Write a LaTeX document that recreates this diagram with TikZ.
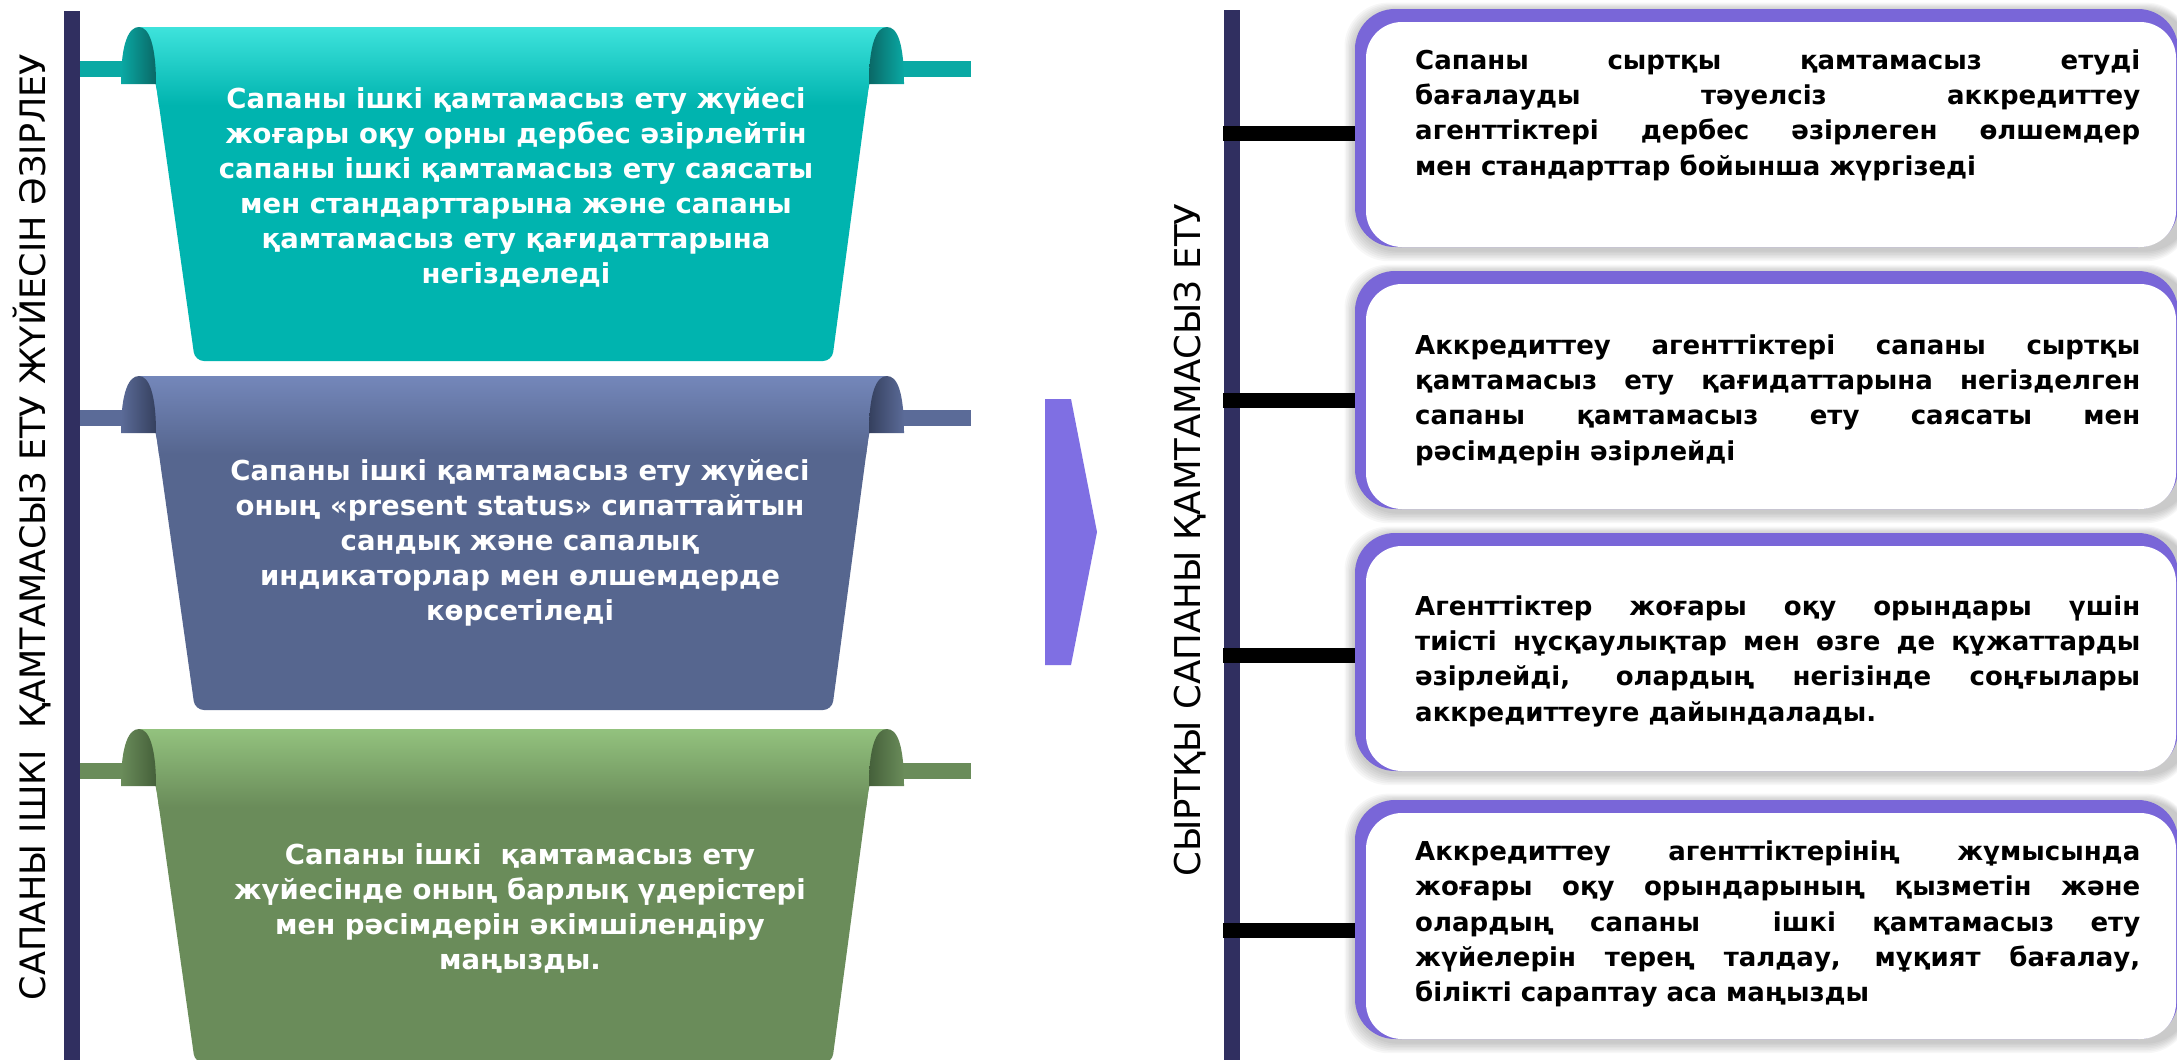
\documentclass[tikz,border=0pt]{standalone}
\usepackage{fontspec}
\setmainfont{DejaVu Sans}
\definecolor{navy}{HTML}{302F60}
\definecolor{tealL}{HTML}{3EE3DC}
\definecolor{tealM}{HTML}{0BA6A1}
\definecolor{tealB}{HTML}{00B4AF}
\definecolor{tealD}{HTML}{0A6866}
\definecolor{tealR}{HTML}{0AA9A4}
\definecolor{blueL}{HTML}{7487BA}
\definecolor{blueM}{HTML}{505F88}
\definecolor{blueB}{HTML}{56668F}
\definecolor{blueD}{HTML}{35405E}
\definecolor{blueR}{HTML}{5B6B98}
\definecolor{grnL}{HTML}{93C27E}
\definecolor{grnM}{HTML}{66874F}
\definecolor{grnB}{HTML}{6A8C5A}
\definecolor{grnD}{HTML}{45603A}
\definecolor{grnR}{HTML}{6A8C5A}
\definecolor{purp}{HTML}{7966D8}
\definecolor{chev}{HTML}{7F6FE3}
\tikzset{
 bantext/.style={text=white, align=center, font=\bfseries\fontsize{27.5}{35}\selectfont, inner sep=0pt},
 boxtext/.style={text=black, align=left, font=\bfseries\fontsize{26}{35.3}\selectfont, inner sep=0pt, anchor=west},
 vlabel/.style={rotate=90, text=black, inner sep=0pt},
 conn/.style={line width=15pt, black},
}
\newcommand{\jline}[1]{\makebox[725pt][s]{#1}}
\newcommand{\drawbanner}[6]{%
\begin{scope}[shift={(0,#1)}]
\fill[#6] (80,61) rectangle (971,77);
\fill[#4, rounded corners=9] (138,27) -- (886,27) -- (869,84) -- (832,361) -- (195,361) -- (156,84) -- cycle;
\begin{scope}
\clip (138,27) -- (886,27) -- (869,84) -- (832,361) -- (195,361) -- (156,84) -- cycle;
\shade[top color=#2, middle color=#3, bottom color=#4] (100,27) rectangle (920,105);
\end{scope}
\shade[left color=#6, right color=#5] (121,84) .. controls (121,42) and (129,27) .. (139,27) .. controls (149,27) and (156,45) .. (156,84) -- cycle;
\shade[left color=#5, right color=#6] (869,84) .. controls (869,45) and (876,27) .. (887,27) .. controls (897,27) and (904,42) .. (904,84) -- cycle;
\end{scope}}
\newcommand{\drawshadow}[2]{%
\foreach \i in {1,...,7}{\fill[black, opacity=0.03, rounded corners=44] (1355-1.5*\i,#1-1.2*\i+2) rectangle (2190,#2+1.6*\i+3);}}
\newcommand{\drawbox}[2]{%
\fill[purp, rounded corners=40] (1355,#1) rectangle (2178,#2);
\fill[white, rounded corners=36] (1366,#1+13) rectangle (2176,#2);}
\begin{document}
\begin{tikzpicture}[x=1pt,y=-1pt]
\useasboundingbox (0,0) rectangle (2177,1060);
\fill[white] (0,0) rectangle (2177,1060);
% left side
\fill[navy] (64,11) rectangle (80,1060);
\drawbanner{0}{tealL}{tealM}{tealB}{tealD}{tealR}
\drawbanner{349}{blueL}{blueM}{blueB}{blueD}{blueR}
\drawbanner{702}{grnL}{grnM}{grnB}{grnD}{grnR}
\node[bantext] (t1) at (516,187) {Сапаны ішкі қамтамасыз ету жүйесі\\жоғары оқу орны дербес әзірлейтін\\сапаны ішкі қамтамасыз ету саясаты\\мен стандарттарына және сапаны\\қамтамасыз ету қағидаттарына\\негізделеді};
\node[bantext] (t2) at (520,543) {Сапаны ішкі қамтамасыз ету жүйесі\\оның «present status» сипаттайтын\\сандық және сапалық\\индикаторлар мен өлшемдерде\\көрсетіледі};
\node[bantext] (t3) at (520,908) {Сапаны ішкі\ \ қамтамасыз ету\\жүйесінде оның барлық үдерістері\\мен рәсімдерін әкімшілендіру\\маңызды.};
\node[vlabel, font=\fontsize{35}{35}\selectfont] (lab1) at (32,527) {САПАНЫ ІШКІ\ \ ҚАМТАМАСЫЗ ЕТУ ЖҮЙЕСІН ӘЗІРЛЕУ};
% chevron
\fill[chev] (1045,399) -- (1071,399) -- (1097,532) -- (1071,665) -- (1045,665) -- cycle;
% right side
\drawshadow{9}{247}
\drawshadow{271}{509}
\drawshadow{533}{771}
\drawshadow{800}{1039}
\fill[navy] (1224,10) rectangle (1240,1060);
\node[vlabel, font=\fontsize{35.5}{35.5}\selectfont] (lab2) at (1190,540) {СЫРТҚЫ САПАНЫ ҚАМТАМАСЫЗ ЕТУ};
\coordinate (r1) at (1223,133.5); \coordinate (e1) at (1357,133.5);
\coordinate (r2) at (1223,400.5); \coordinate (e2) at (1357,400.5);
\coordinate (r3) at (1223,655.5); \coordinate (e3) at (1357,655.5);
\coordinate (r4) at (1223,930.5); \coordinate (e4) at (1357,930.5);
\draw[conn] (r1) -- (e1);
\draw[conn] (r2) -- (e2);
\draw[conn] (r3) -- (e3);
\draw[conn] (r4) -- (e4);
\drawbox{9}{247}
\drawbox{271}{509}
\drawbox{533}{771}
\drawbox{800}{1039}
\node[boxtext] (b1) at (1415,115) {\jline{Сапаны сыртқы қамтамасыз етуді}\\\jline{бағалауды тәуелсіз аккредиттеу}\\\jline{агенттіктері дербес әзірлеген өлшемдер}\\мен стандарттар бойынша жүргізеді};
\node[boxtext] (b2) at (1415,400) {\jline{Аккредиттеу агенттіктері сапаны сыртқы}\\\jline{қамтамасыз ету қағидаттарына негізделген}\\\jline{сапаны қамтамасыз ету саясаты мен}\\рәсімдерін әзірлейді};
\node[boxtext] (b3) at (1415,661) {\jline{Агенттіктер жоғары оқу орындары үшін}\\\jline{тиісті нұсқаулықтар мен өзге де құжаттарды}\\\jline{әзірлейді, олардың негізінде соңғылары}\\аккредиттеуге дайындалады.};
\node[boxtext] (b4) at (1415,924) {\jline{Аккредиттеу агенттіктерінің жұмысында}\\\jline{жоғары оқу орындарының қызметін және}\\\jline{олардың сапаны\ \ ішкі қамтамасыз ету}\\\jline{жүйелерін терең талдау, мұқият бағалау,}\\білікті сараптау аса маңызды};
\end{tikzpicture}
\end{document}
